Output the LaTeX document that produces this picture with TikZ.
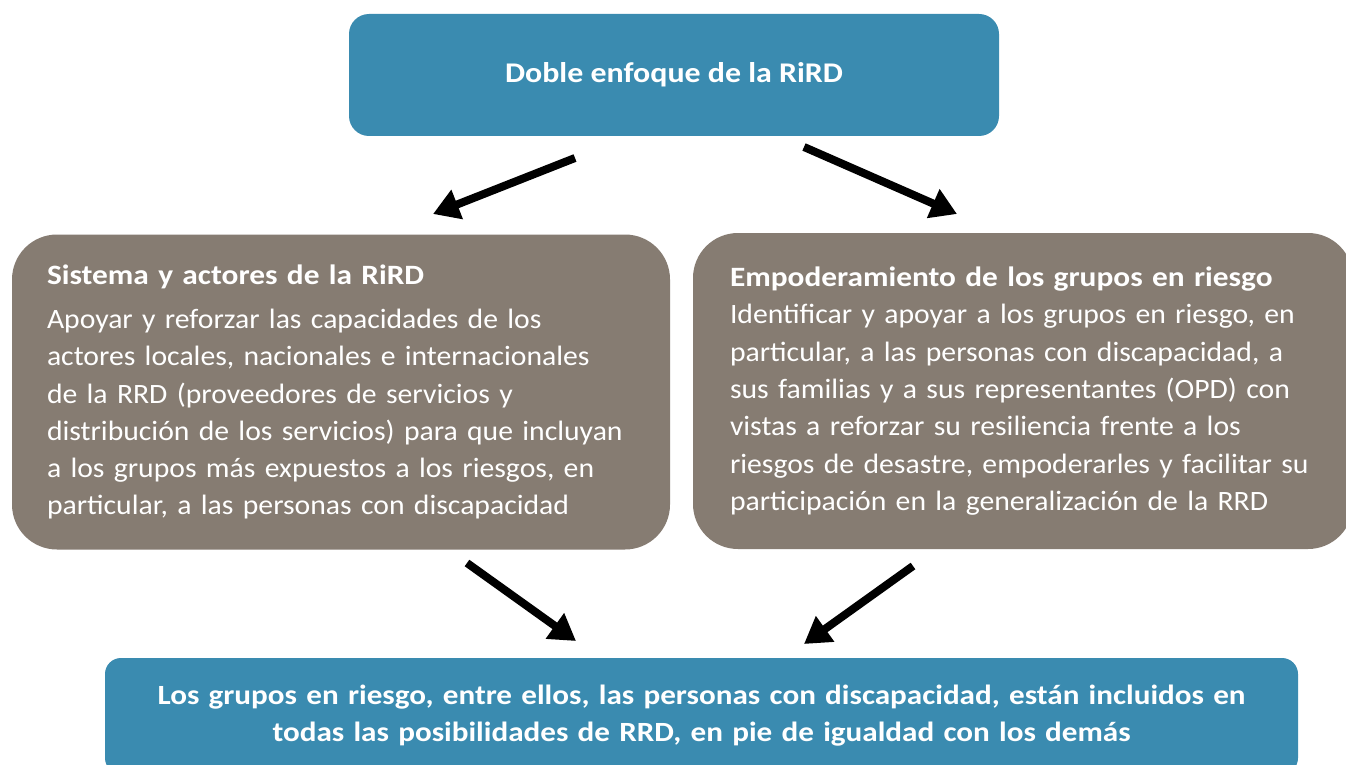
\documentclass[tikz,border=0pt]{standalone}
\usepackage{fontspec}
\setmainfont{Carlito}[FakeStretch=1.06, BoldFeatures={FakeStretch=1.12}]
\usetikzlibrary{arrows.meta}
\definecolor{teal}{RGB}{58,139,176}
\definecolor{taupe}{RGB}{134,124,114}
\tikzset{
  bluebox/.style={fill=teal, draw=none, text=white, font=\bfseries\fontsize{27.8}{37}\selectfont, align=center},
  graybox/.style={fill=taupe, draw=none, text=white, rounded corners=45pt, font=\fontsize{28}{37.3}\selectfont, align=left, inner xsep=0pt},
  arr/.style={line width=8pt, -{Triangle[length=26pt,width=30pt]}}
}
\begin{document}
\begin{tikzpicture}[x=1pt,y=-1pt]
\clip (0,0) rectangle (1346,765);
\fill[white] (0,0) rectangle (1346,765);
\node[bluebox, font=\bfseries\fontsize{28.5}{37}\selectfont, rounded corners=20pt, minimum width=650pt, minimum height=122pt] (top) at (674,75) {Doble enfoque de la RiRD};
\node[graybox, minimum width=658pt, minimum height=315pt, text width=588pt] (left) at (341,392)
  {\textbf{Sistema y actores de la RiRD}\\[7pt]
   Apoyar y reforzar las capacidades de los\\
   actores locales, nacionales e internacionales\\
   de la RRD (proveedores de servicios y\\
   distribución de los servicios) para que incluyan\\
   a los grupos más expuestos a los riesgos, en\\
   particular, a las personas con discapacidad};
\node[graybox, minimum width=660pt, minimum height=316pt, text width=586pt] (right) at (1023,391)
  {\textbf{Empoderamiento de los grupos en riesgo}\\
   Identificar y apoyar a los grupos en riesgo, en\\
   particular, a las personas con discapacidad, a\\
   sus familias y a sus representantes (OPD) con\\
   vistas a reforzar su resiliencia frente a los\\
   riesgos de desastre, empoderarles y facilitar su\\
   participación en la generalización de la RRD};
\node[bluebox, rounded corners=16pt, minimum width=1193pt, minimum height=116pt, text width=1150pt] (bottom) at (701.5,716)
  {Los grupos en riesgo, entre ellos, las personas con discapacidad, están incluidos en\\
   todas las posibilidades de RRD, en pie de igualdad con los demás};
\coordinate (a1s) at (575,158);
\coordinate (a1e) at (433,214);
\coordinate (a2s) at (804,147);
\coordinate (a2e) at (957,214);
\coordinate (a3s) at (467,563);
\coordinate (a3e) at (576,641);
\coordinate (a4s) at (913,566);
\coordinate (a4e) at (804,644);
\draw[arr] (a1s) -- (a1e);
\draw[arr] (a2s) -- (a2e);
\draw[arr] (a3s) -- (a3e);
\draw[arr] (a4s) -- (a4e);
\end{tikzpicture}
\end{document}
